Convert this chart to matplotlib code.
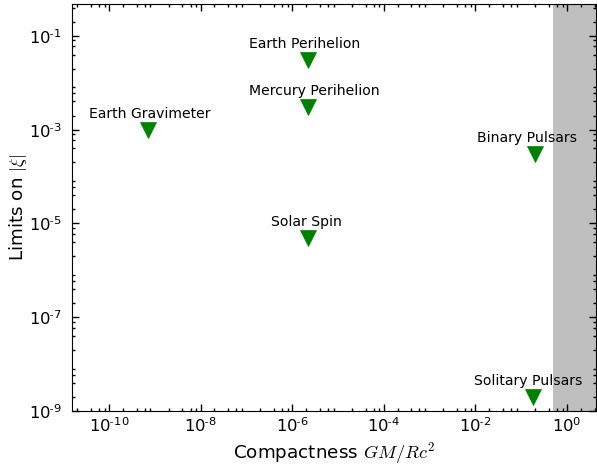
import numpy as np
import matplotlib
matplotlib.use("Agg")  # no display, just write the png
import matplotlib.pyplot as plt
from matplotlib import ticker

# Experiment names, compactness of the test body and upper limit on |xi|
experiments = ["Earth Gravimeter", "Earth Perihelion", "Mercury Perihelion",
               "Solar Spin", "Binary Pulsars", "Solitary Pulsars"]
compactness = [7e-10, 2.2e-6, 2.2e-6, 2.2e-6, 0.2, 0.18]
xi_limit = [1e-3, 3e-2, 3e-3, 5e-6, 3e-4, 2e-9]

# Compactness region excluded (beyond black hole / neutron star limit)
shade_start = 0.5

# small horizontal nudges of the labels (pixels)
label_dx = [2, -3, 6, -1, -8, -5]

plt.rcParams["mathtext.fontset"] = "cm"
plt.rcParams["font.family"] = "DejaVu Sans"


def pow10_label(val, pos):
    # old-style label: 10 with a short hyphen in the exponent
    exp = int(round(np.log10(val)))
    sign = r"\text{-}" if exp < 0 else ""
    return r"$\mathdefault{10^{%s%d}}$" % (sign, abs(exp))


fig = plt.figure(figsize=(5.97, 4.66), dpi=100)
ax = fig.add_axes([72 / 597, 1 - 411 / 466, 524 / 597, 407 / 466])

ax.set_xscale("log")
ax.set_yscale("log")
ax.set_xlim(1.55e-11, 4.3)
ax.set_ylim(1e-9, 0.48)

ax.axvspan(shade_start, 100, color="grey", alpha=0.5, lw=0, zorder=0)

ax.plot(compactness, xi_limit, linestyle="none", marker="v", markersize=11.5,
        color="green", markeredgecolor="green", markeredgewidth=0.5)

for name, x, y, dx in zip(experiments, compactness, xi_limit, label_dx):
    ax.annotate(name, (x, y), xytext=(dx, 12), textcoords="offset pixels",
                ha="center", va="baseline", fontsize=10.1)

# majors every second decade, minors at 2,4,6,8 of every decade
ax.xaxis.set_major_locator(ticker.LogLocator(base=100, subs=(1.0,)))
ax.yaxis.set_major_locator(ticker.LogLocator(base=100, subs=(0.1,)))
for axis in (ax.xaxis, ax.yaxis):
    axis.set_major_formatter(ticker.FuncFormatter(pow10_label))
    axis.set_minor_locator(ticker.LogLocator(base=10, subs=(2, 4, 6, 8), numticks=50))
    axis.set_minor_formatter(ticker.NullFormatter())

ax.tick_params(which="both", direction="in", top=True, right=True, width=1)
ax.tick_params(which="major", length=5, labelsize=11.8)
ax.tick_params(which="minor", length=2.5)
ax.tick_params(axis="x", which="major", pad=4)
ax.tick_params(axis="y", which="major", pad=7)

ax.set_xlabel(r"Compactness $GM/Rc^2$", fontsize=13.2)
ax.set_ylabel(r"Limits on $|\xi|$", fontsize=13.2)
ax.yaxis.set_label_coords(-0.082, 0.5)

fig.savefig("out.png", dpi=100)
